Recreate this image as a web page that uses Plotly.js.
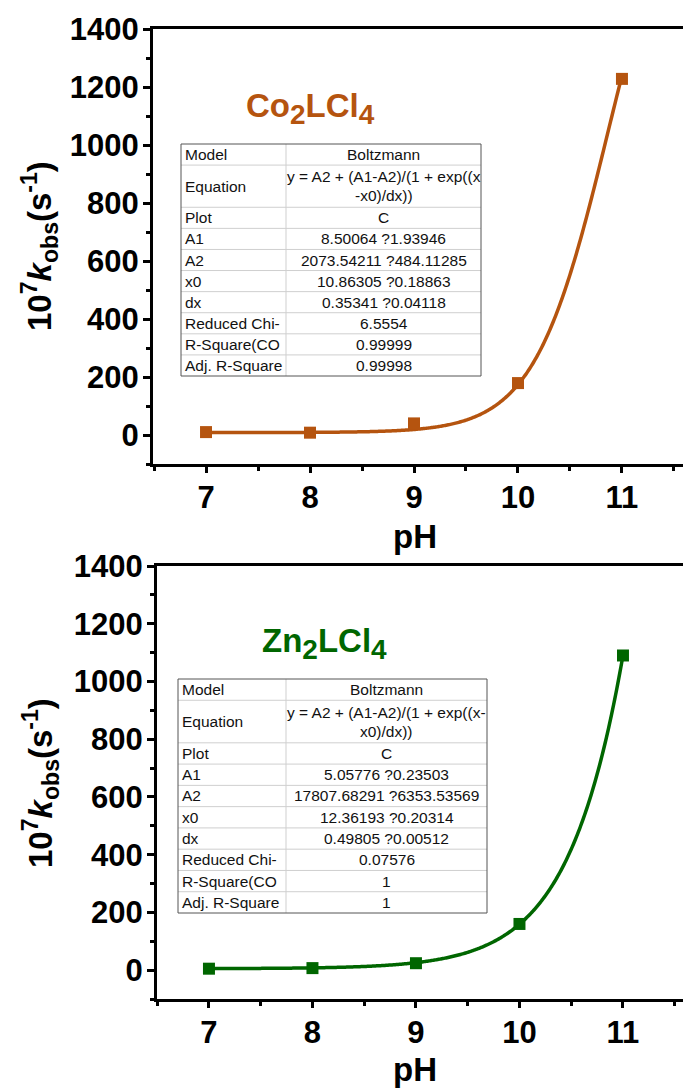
<!DOCTYPE html>
<html>
<head>
<meta charset="utf-8">
<script src="https://cdn.plot.ly/plotly-3.0.1.min.js"></script>
<style>
  html, body { margin: 0; padding: 0; background: #fff; }
  #chart { width: 683px; height: 1088px; }
</style>
</head>
<body>
<div id="chart"></div>
<script>
// pH values shared by both panels
const pH = [7, 8, 9, 10, 11];

// Observed rate constants, 10^7 k_obs (s^-1)
const kobsCo = [10, 8, 40, 179, 1228];
const kobsZn = [5, 7, 24, 160, 1090];

// Boltzmann fit parameters [A1, A2, x0, dx]
const fitCo = [8.50064, 2073.54211, 10.86305, 0.35341];
const fitZn = [5.05776, 17807.68291, 12.36193, 0.49805];

// Fit report tables
const tableLabels = ['Model', 'Equation', 'Plot', 'A1', 'A2', 'x0', 'dx',
  'Reduced Chi-', 'R-Square(CO', 'Adj. R-Square'];
const tableCo = ['Boltzmann', '', 'C', '8.50064 ?1.93946', '2073.54211 ?484.11285',
  '10.86305 ?0.18863', '0.35341 ?0.04118', '6.5554', '0.99999', '0.99998'];
const tableZn = ['Boltzmann', '', 'C', '5.05776 ?0.23503', '17807.68291 ?6353.53569',
  '12.36193 ?0.20314', '0.49805 ?0.00512', '0.07576', '1', '1'];
const equationCo = ['y = A2 + (A1-A2)/(1 + exp((x', '-x0)/dx))'];
const equationZn = ['y = A2 + (A1-A2)/(1 + exp((x-', 'x0)/dx))'];

const colorCo = '#B5540F';
const colorZn = '#006600';
const FONT = 'Liberation Sans, Arial, sans-serif';

// Boltzmann curve evaluated across the measured pH span
function boltzmann(p, x) {
  return p[1] + (p[0] - p[1]) / (1 + Math.exp((x - p[2]) / p[3]));
}
function fitCurve(p) {
  const xs = [], ys = [];
  for (let i = 0; i <= 400; i++) {
    const x = pH[0] + (pH[pH.length - 1] - pH[0]) * i / 400;
    xs.push(x);
    ys.push(boltzmann(p, x));
  }
  return { xs, ys };
}

// pixel -> paper helpers
const M = { l: 153, r: 0, t: 29, b: 89 };
const W = 683, H = 1088;
const PW = W - M.l - M.r, PH = H - M.t - M.b;
const px = x => (x - M.l) / PW;
const py = y => 1 - (y - M.t) / PH;

const shapes = [];
const annotations = [];
const cellFont = { family: FONT, size: 15.5, color: '#111' };

function buildTable(left, mid, right, top, bottom, values, eq) {
  const units = tableLabels.map((_, i) => (i === 1 ? 2 : 1));
  const total = units.reduce((a, b) => a + b, 0);
  const u = (bottom - top) / total;
  let y = top;
  tableLabels.forEach((lab, i) => {
    const h = units[i] * u;
    const cy = y + h / 2;
    if (i > 0) {
      shapes.push({ type: 'line', xref: 'paper', yref: 'paper',
        x0: px(left), x1: px(right), y0: py(y), y1: py(y),
        line: { color: '#cfcfcf', width: 1 } });
    }
    annotations.push({ xref: 'paper', yref: 'paper', x: px(left + 2), y: py(cy),
      xanchor: 'left', yanchor: 'middle', showarrow: false, text: lab, font: cellFont });
    if (i === 1) {
      annotations.push({ xref: 'paper', yref: 'paper', x: px((mid + right) / 2), y: py(cy - 9.5),
        xanchor: 'center', yanchor: 'middle', showarrow: false, text: eq[0], font: cellFont });
      annotations.push({ xref: 'paper', yref: 'paper', x: px((mid + right) / 2), y: py(cy + 9.5),
        xanchor: 'center', yanchor: 'middle', showarrow: false, text: eq[1], font: cellFont });
    } else {
      annotations.push({ xref: 'paper', yref: 'paper', x: px((mid + right) / 2), y: py(cy),
        xanchor: 'center', yanchor: 'middle', showarrow: false, text: values[i], font: cellFont });
    }
    y += h;
  });
  shapes.push({ type: 'line', xref: 'paper', yref: 'paper',
    x0: px(mid), x1: px(mid), y0: py(top), y1: py(bottom),
    line: { color: '#cfcfcf', width: 1 } });
  shapes.push({ type: 'rect', xref: 'paper', yref: 'paper',
    x0: px(left), x1: px(right), y0: py(top), y1: py(bottom),
    line: { color: '#555', width: 1 } });
}

buildTable(181, 286, 481, 144, 376, tableCo, equationCo);
buildTable(178, 286, 487, 679, 913, tableZn, equationZn);

// Compound labels, subscripts kept close to full height
const sub = d => '<sub><span style="font-size:28px">' + d + '</span></sub>';
annotations.push({ xref: 'paper', yref: 'paper', x: px(310), y: py(108),
  xanchor: 'center', yanchor: 'middle', showarrow: false,
  text: 'Co' + sub('2') + 'LCl' + sub('4'),
  font: { family: FONT, size: 33, color: colorCo, weight: 'bold' } });
annotations.push({ xref: 'paper', yref: 'paper', x: px(324), y: py(643),
  xanchor: 'center', yanchor: 'middle', showarrow: false,
  text: 'Zn' + sub('2') + 'LCl' + sub('4'),
  font: { family: FONT, size: 33, color: colorZn, weight: 'bold' } });

// Axis titles
const yTitle = '10<sup>7</sup><i>k</i><sub>obs</sub>(s<sup>-1</sup>)';
[[246, 536], [783, 1069]].forEach(([yc, xy]) => {
  annotations.push({ xref: 'paper', yref: 'paper', x: px(40), y: py(yc),
    xanchor: 'center', yanchor: 'middle', showarrow: false, textangle: -90,
    text: yTitle, font: { family: FONT, size: 33, color: '#000', weight: 'bold' } });
  annotations.push({ xref: 'paper', yref: 'paper', x: px(415), y: py(xy),
    xanchor: 'center', yanchor: 'middle', showarrow: false,
    text: 'pH', font: { family: FONT, size: 33, color: '#000', weight: 'bold' } });
});

const curveCo = fitCurve(fitCo);
const curveZn = fitCurve(fitZn);

const traces = [
  { x: curveCo.xs, y: curveCo.ys, xaxis: 'x', yaxis: 'y', mode: 'lines',
    line: { color: colorCo, width: 3.5, simplify: false }, hoverinfo: 'skip' },
  { x: pH, y: kobsCo, xaxis: 'x', yaxis: 'y', mode: 'markers',
    marker: { symbol: 'square', size: 12, color: colorCo } },
  { x: curveZn.xs, y: curveZn.ys, xaxis: 'x2', yaxis: 'y2', mode: 'lines',
    line: { color: colorZn, width: 3.5, simplify: false }, hoverinfo: 'skip' },
  { x: pH, y: kobsZn, xaxis: 'x2', yaxis: 'y2', mode: 'markers',
    marker: { symbol: 'square', size: 12, color: colorZn } }
];

const tickFont = { family: FONT, size: 31, color: '#000', weight: 'bold' };
function xAxis(domain, range, anchor) {
  return {
    domain, range, anchor, showgrid: false, zeroline: false,
    showline: true, linewidth: 3, linecolor: '#000', mirror: true,
    tickvals: pH, ticks: 'outside', ticklen: 6, tickwidth: 3, tickcolor: '#000',
    minor: { dtick: 0.5, tick0: 7, ticks: 'outside', ticklen: 4, tickwidth: 3, tickcolor: '#000' },
    tickfont: tickFont, ticklabelstandoff: -2
  };
}
function yAxis(domain, anchor) {
  return {
    domain, anchor, range: [-100, 1400], showgrid: false, zeroline: false,
    showline: true, linewidth: 3, linecolor: '#000',
    tickvals: [0, 200, 400, 600, 800, 1000, 1200, 1400],
    ticks: 'outside', ticklen: 7, tickwidth: 3, tickcolor: '#000',
    minor: { dtick: 100, tick0: 0, ticks: 'outside', ticklen: 4, tickwidth: 3, tickcolor: '#000' },
    tickfont: tickFont, ticklabelstandoff: -2
  };
}

const layout = {
  width: W, height: H, margin: M,
  paper_bgcolor: '#fff', plot_bgcolor: '#fff', showlegend: false,
  xaxis: xAxis([0, 1], [6.49, 11.587], 'y'),
  yaxis: yAxis([py(464), 1], 'x'),
  xaxis2: xAxis([px(157), 1], [6.498, 11.58], 'y2'),
  yaxis2: yAxis([0, py(566)], 'x2'),
  shapes, annotations
};

Plotly.newPlot('chart', traces, layout, { displayModeBar: false, staticPlot: true });
</script>
</body>
</html>
